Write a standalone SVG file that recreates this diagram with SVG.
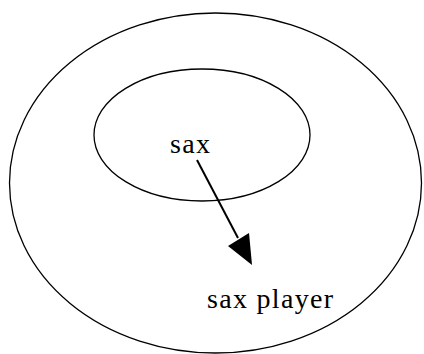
<svg xmlns="http://www.w3.org/2000/svg" width="424" height="354" viewBox="0 0 424 354">
<style>
.e{fill:none;stroke:#000;stroke-width:1.3}
.t{font-family:"Liberation Serif",serif;font-size:28px;letter-spacing:1.3px;fill:#000}
</style>
<rect width="424" height="354" fill="#fff"/>
<g id="sax_player">
<ellipse class="e" cx="215.5" cy="183" rx="206" ry="170"/>
<text class="t" x="207" y="308">sax player</text>
</g>
<g id="sax">
<ellipse class="e" cx="202" cy="135" rx="108" ry="66"/>
<text class="t" x="170" y="153">sax</text>
</g>
<g id="connectors">
<line x1="197" y1="160" x2="238" y2="238" stroke="#000" stroke-width="2"/>
<polygon points="252,265 228,246 249,233" fill="#000"/>
</g>
</svg>
